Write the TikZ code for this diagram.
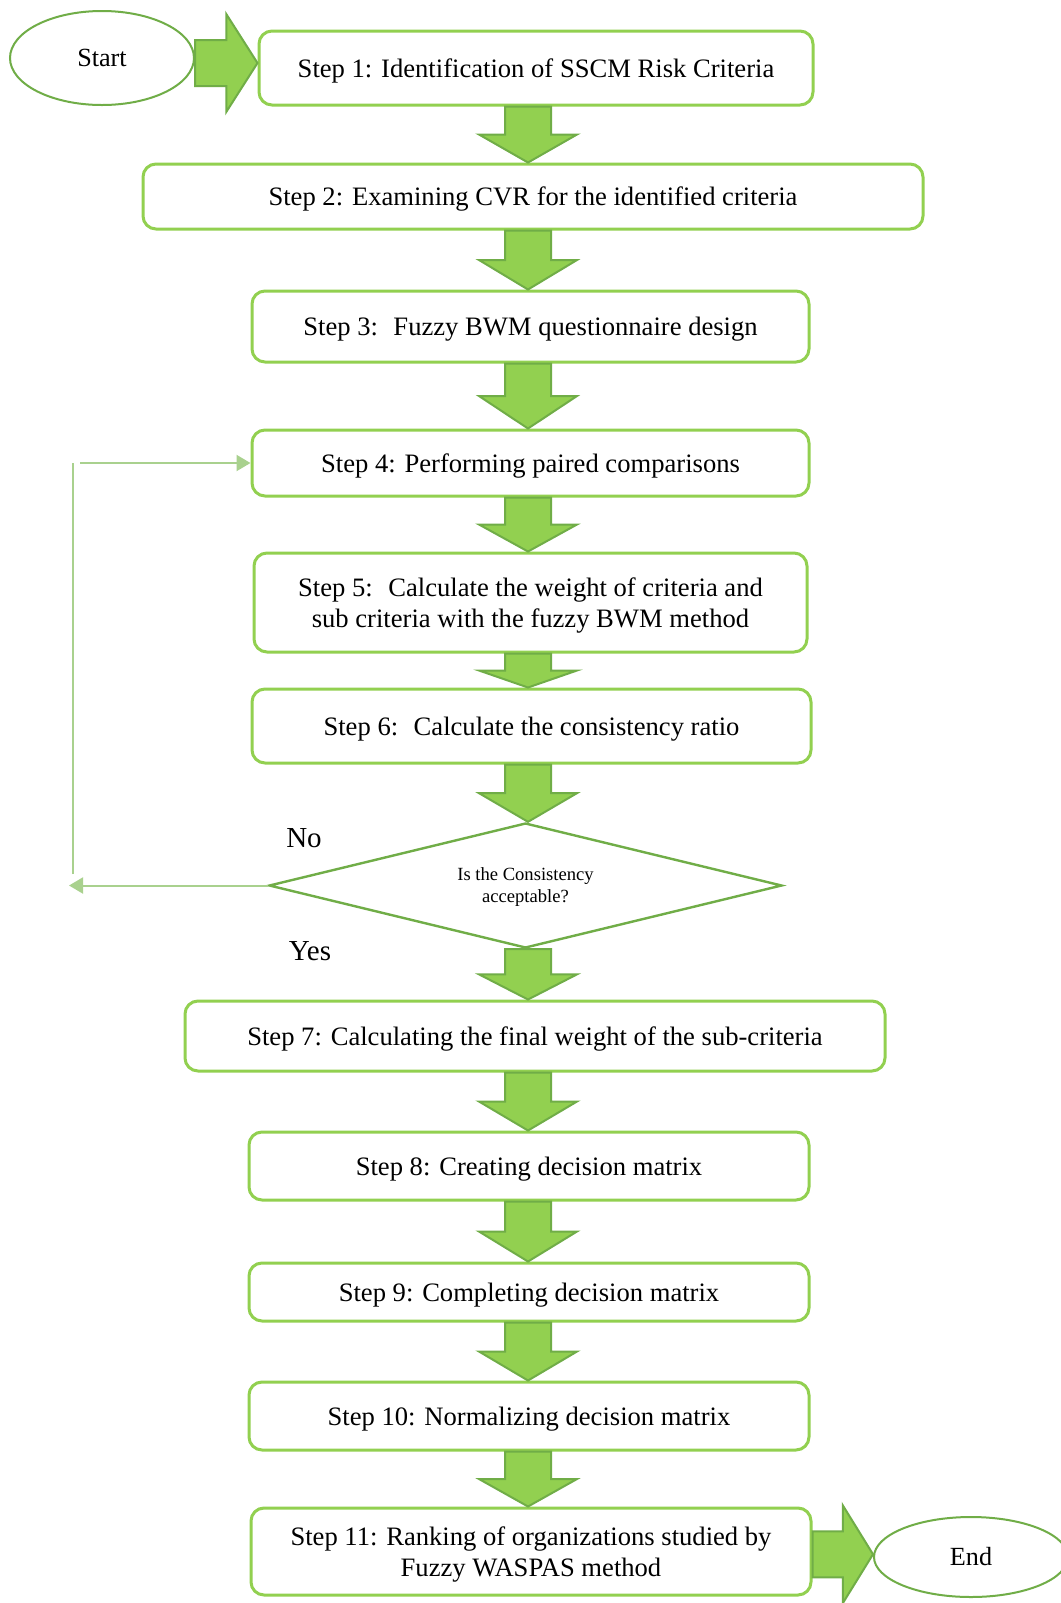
\documentclass[tikz,border=0pt]{standalone}
\usepackage{fontspec}
\setmainfont{Liberation Serif}
\usetikzlibrary{arrows.meta, shapes.geometric, calc}
\definecolor{light}{RGB}{146, 208, 80}
\definecolor{dark}{RGB}{112, 173, 71}
\definecolor{pale}{RGB}{169, 209, 142}
\newcommand{\downblock}[2]{
  \draw[blockarrow] let \p1 = (col |- #1.south), \p2 = (col |- #2.north),
                        \p3 = ($(\p1)!0.5!(\p2)$) in
    (\x1 - \Bw, \y1) -- (\x1 - \Bw, \y3) -- (\x1 - \Hw, \y3) -- (\x2, \y2)
    -- (\x1 + \Hw, \y3) -- (\x1 + \Bw, \y3) -- (\x1 + \Bw, \y1) -- cycle;
}
\newcommand{\rightblock}[2]{
  \draw[blockarrow] let \p1 = (#1.east), \p2 = (#2.west),
                        \p3 = ($(#1.center)!0.5!(#2.center)$),
                        \p4 = ($(\p1)!0.5!(\p2)$) in
    (\x1, \y3 - \Bw) -- (\x4, \y3 - \Bw) -- (\x4, \y3 - \Hw) -- (\x2, \y3)
    -- (\x4, \y3 + \Hw) -- (\x4, \y3 + \Bw) -- (\x1, \y3 + \Bw) -- cycle;
}
\tikzset{
  stepbox/.style={draw=light, line width=1.5pt, rounded corners=6.5pt,
    align=center, inner sep=0pt, text depth=0pt,
    font=\fontsize{13.3}{15.5}\selectfont},
  terminal/.style={ellipse, draw=dark, line width=1pt, inner sep=0pt,
    font=\fontsize{13.1}{15}\selectfont},
  blockarrow/.style={fill=light, draw=dark, line width=1pt, line join=miter},
  loopline/.style={draw=pale, line width=1pt},
  looptip/.style={-{Triangle[length=7pt, width=8pt]}}
}

\begin{document}
\begin{tikzpicture}[x=0.5pt, y=-0.5pt]
  % Size
  \pgfmathsetlengthmacro{\Bw}{11.5pt}
  \pgfmathsetlengthmacro{\Hw}{24.5pt}

  \fill[white] (0, 0) rectangle (1061, 1603);
  \useasboundingbox (0, 0) rectangle (1061, 1603);

  % Positioning
  \coordinate (col) at (528, 0);

  \node[terminal, minimum width=92pt, minimum height=47pt] (start) at (102, 58) {Start};
  \node[terminal, minimum width=97pt, minimum height=40pt] (end) at (971, 1557) {End};

  \node[stepbox, minimum width=277pt, minimum height=37pt] (s1) at (536, 68)
    {Step 1: Identification of SSCM Risk Criteria};
  \node[stepbox, minimum width=390pt, minimum height=32.5pt] (s2) at (533, 196.5)
    {Step 2: Examining CVR for the identified criteria};
  \node[stepbox, minimum width=278.5pt, minimum height=35.5pt] (s3) at (530.5, 326.5)
    {Step 3:~ Fuzzy BWM questionnaire design};
  \node[stepbox, minimum width=278.5pt, minimum height=33pt] (s4) at (530.5, 463)
    {Step 4: Performing paired comparisons};
  \node[stepbox, minimum width=276.5pt, minimum height=49.5pt] (s5) at (530.5, 602.5)
    {Step 5:~ Calculate the weight of criteria and\\sub criteria with the fuzzy BWM method};
  \node[stepbox, minimum width=279.5pt, minimum height=37pt] (s6) at (531.5, 726)
    {Step 6:~ Calculate the consistency ratio};
  \node[diamond, draw=dark, line width=1.2pt, inner sep=0pt, align=center,
        minimum width=256.5pt, minimum height=62.5pt, aspect=4.1, text depth=0pt,
        font=\fontsize{9.3}{11}\selectfont] (check) at (525.5, 885.5)
    {Is the Consistency\\acceptable?};
  \node[stepbox, minimum width=350pt, minimum height=35pt] (s7) at (535, 1036)
    {Step 7: Calculating the final weight of the sub-criteria};
  \node[stepbox, minimum width=280pt, minimum height=34pt] (s8) at (529, 1166)
    {Step 8: Creating decision matrix};
  \node[stepbox, minimum width=280pt, minimum height=29pt] (s9) at (529, 1292)
    {Step 9: Completing decision matrix};
  \node[stepbox, minimum width=280pt, minimum height=34pt] (s10) at (529, 1416)
    {Step 10: Normalizing decision matrix};
  \node[stepbox, minimum width=280pt, minimum height=43.5pt] (s11) at (531, 1551.5)
    {Step 11: Ranking of organizations studied by\\Fuzzy WASPAS method};

  \node[font=\fontsize{14.5}{16}\selectfont] (no) at (304, 838) {No};
  \node[font=\fontsize{14.5}{16}\selectfont] (yes) at (310, 951) {Yes};

  \rightblock{start}{s1}
  \downblock{s1}{s2}
  \downblock{s2}{s3}
  \downblock{s3}{s4}
  \downblock{s4}{s5}
  \downblock{s5}{s6}
  \downblock{s6}{check}
  \downblock{check}{s7}
  \downblock{s7}{s8}
  \downblock{s8}{s9}
  \downblock{s9}{s10}
  \downblock{s10}{s11}
  \rightblock{s11}{end}

  % loop back
  \coordinate (loopend) at (69, 885.5);
  \coordinate (loopbot) at (73, 874);
  \coordinate (looptop) at (73, 463);
  \coordinate (loopstart) at (80, 463);
  \draw[loopline, looptip] (check.west) -- (loopend);
  \draw[loopline] (loopbot) -- (looptop);
  \draw[loopline, looptip] (loopstart) -- (s4.west);
\end{tikzpicture}
\end{document}
